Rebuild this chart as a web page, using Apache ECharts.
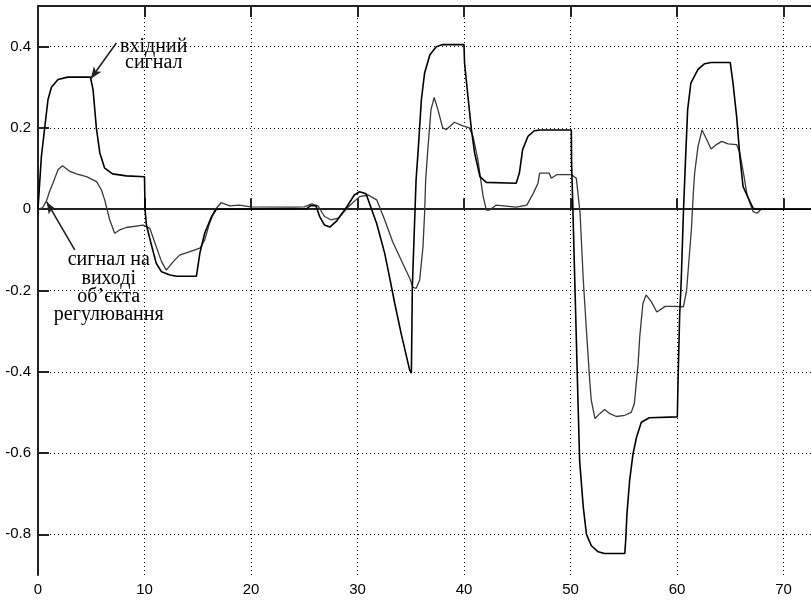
<!DOCTYPE html>
<html>
<head>
<meta charset="utf-8">
<script src="https://cdn.jsdelivr.net/npm/echarts@6/dist/echarts.min.js"></script>
<style>
html,body{margin:0;padding:0;background:#fff;}
#c{width:811px;height:601px;}
</style>
</head>
<body>
<div id="c"></div>
<script>
// ---- data ----
const inputSignal = [
  [0,0],[0.12,0.05],[0.32,0.13],[0.63,0.2],[0.94,0.27],[1.26,0.3],[1.88,0.319],[2.8,0.325],[4.92,0.325],
  [5.17,0.294],[5.48,0.2],[5.8,0.139],[6.26,0.101],[7.0,0.087],[8.3,0.082],[10.0,0.08],
  [10.05,0.0],[10.18,-0.039],[10.65,-0.088],[11.1,-0.133],[11.6,-0.154],[12.4,-0.162],[13.0,-0.165],[14.87,-0.165],
  [15.2,-0.108],[15.65,-0.059],[16.3,-0.018],[16.75,0],[25.2,0.001],[25.6,0.009],[26.1,0.008],
  [26.45,-0.018],[26.9,-0.039],[27.4,-0.044],[28.0,-0.03],[29.0,0.006],[29.7,0.035],[30.2,0.043],[30.8,0.038],
  [31.8,-0.035],[32.55,-0.108],[33.0,-0.166],[33.5,-0.232],[34.1,-0.306],[34.9,-0.396],[35.06,-0.403],
  [35.15,-0.19],[35.5,0.072],[35.7,0.146],[36.0,0.27],[36.3,0.335],[36.8,0.38],[37.4,0.4],[38.0,0.405],[40.0,0.405],
  [40.05,0.36],[40.4,0.27],[40.7,0.195],[41.0,0.138],[41.5,0.08],[42.1,0.066],[44.9,0.064],
  [45.2,0.089],[45.5,0.146],[46.0,0.179],[46.6,0.193],[47.2,0.195],[50.08,0.195],
  [50.1,0.114],[50.2,0.023],[50.4,-0.174],[50.55,-0.322],[50.7,-0.47],[50.86,-0.62],[51.2,-0.733],[51.5,-0.8],
  [51.96,-0.828],[52.6,-0.843],[53.2,-0.847],[55.1,-0.847],[55.2,-0.807],[55.3,-0.75],[55.55,-0.668],[55.87,-0.602],
  [56.2,-0.561],[56.65,-0.524],[57.4,-0.513],[60.03,-0.511],[60.1,-0.42],[60.25,-0.26],[60.4,-0.174],[60.6,-0.01],
  [60.8,0.122],[61.0,0.245],[61.3,0.31],[61.97,0.344],[62.6,0.358],[63.2,0.361],[65.0,0.361],
  [65.26,0.31],[65.6,0.228],[65.9,0.13],[66.2,0.056],[66.7,0.027],[67.15,0.002],[67.5,0],[80,0]
];
const outputSignal = [
  [0,0],[0.4,0.003],[0.79,0.02],[1.1,0.045],[1.4,0.064],[1.88,0.097],[2.3,0.107],[3.0,0.093],[3.6,0.087],
  [4.55,0.08],[5.5,0.068],[5.95,0.048],[6.26,0.023],[6.73,-0.026],[7.2,-0.059],[7.67,-0.051],[8.3,-0.045],[9.86,-0.039],
  [10.5,-0.047],[11.1,-0.092],[11.6,-0.129],[12.05,-0.15],[12.7,-0.129],[13.3,-0.113],[14.2,-0.105],[15.2,-0.096],
  [15.65,-0.076],[16.1,-0.035],[16.6,-0.002],[17.2,0.016],[18.0,0.008],[18.9,0.01],[20.0,0.006],[24.0,0.005],
  [25.0,0.006],[25.7,0.013],[26.3,0.008],[26.9,-0.018],[27.5,-0.026],[28.2,-0.022],[29.3,0.01],[30.2,0.031],
  [31.0,0.035],[31.8,0.023],[32.55,-0.026],[33.3,-0.08],[34.1,-0.125],[34.9,-0.17],[35.2,-0.192],[35.5,-0.195],
  [35.84,-0.174],[36.15,-0.092],[36.3,-0.01],[36.4,0.072],[36.6,0.146],[36.9,0.245],[37.2,0.275],[37.55,0.245],
  [38.0,0.2],[38.35,0.196],[39.1,0.214],[39.9,0.205],[40.5,0.2],[40.85,0.179],[41.3,0.122],[41.8,0.031],
  [42.1,-0.002],[42.4,-0.002],[43.0,0.01],[44.9,0.005],[45.9,0.01],[46.5,0.039],[46.95,0.064],[47.1,0.089],
  [48.0,0.089],[48.2,0.076],[48.7,0.085],[50.1,0.085],[50.55,0.076],[50.9,-0.01],[51.2,-0.174],[51.5,-0.3],
  [51.8,-0.42],[51.95,-0.47],[52.3,-0.515],[52.75,-0.503],[53.2,-0.493],[53.7,-0.503],[54.3,-0.51],[55.1,-0.507],
  [55.7,-0.5],[56.0,-0.478],[56.2,-0.421],[56.35,-0.38],[56.5,-0.314],[56.8,-0.232],[57.1,-0.211],[57.6,-0.228],
  [58.1,-0.253],[58.9,-0.239],[59.95,-0.239],[60.6,-0.24],[60.9,-0.2],[61.1,-0.133],[61.35,-0.051],[61.55,0.048],
  [61.66,0.089],[61.97,0.154],[62.35,0.195],[62.8,0.171],[63.2,0.148],[63.7,0.159],[64.2,0.167],[64.8,0.161],
  [65.6,0.159],[65.9,0.138],[66.3,0.08],[66.55,0.039],[66.85,0.015],[67.15,-0.006],[67.5,-0.01],[67.9,0],[80,0]
];
const yTickValues = [-0.8, -0.6, -0.4, -0.2, 0, 0.2, 0.4];
const yTickLabels = ['-0.8', '-0.6', '-0.4', '-0.2', '0', '0.2', '0.4'];
const xMin = 0, xMax = 80, xStep = 10;
const yMin = -0.9, yMax = 0.5;
const inputLabel = 'вхідний\nсигнал';
const outputLabel = 'сигнал на\nвиході\nоб\u02BCєкта\nрегулювання';
const inputArrow = [[7.36, 0.409], [4.95, 0.321]];
const outputArrow = [[3.45, -0.1], [0.82, 0.018]];
const inputLabelAt = [10.87, 0.381];
const outputLabelAt = [6.64, -0.193];

// ---- chart ----
const chart = echarts.init(document.getElementById('c'), null, {renderer: 'canvas'});
const frame = {show: true, lineStyle: {color: '#222', width: 2}};
const tickFont = {fontFamily: 'Liberation Sans, Arial, sans-serif', fontSize: 15, color: '#000'};
const grid = {type: [1, 3], color: '#000', width: 1};
const annFont = {fontFamily: 'Liberation Serif, Times New Roman, serif', fontSize: 20, color: '#000'};

chart.setOption({
  animation: false,
  backgroundColor: '#fff',
  grid: {left: 38, top: 6, right: -79, bottom: 26, containLabel: false, outerBoundsMode: 'none'},
  xAxis: [
    {type: 'value', min: xMin, max: xMax, interval: xStep, position: 'bottom',
     axisLine: frame, axisTick: {show: true, inside: true, length: 11, lineStyle: {color: '#222', width: 2}},
     axisLabel: Object.assign({margin: 7}, tickFont),
     splitLine: {show: true, lineStyle: grid}},
    {type: 'value', min: xMin, max: xMax, interval: xStep, position: 'top',
     axisLine: frame, axisTick: {show: true, inside: true, length: 11, lineStyle: {color: '#222', width: 2}},
     axisLabel: {show: false}, splitLine: {show: false}}
  ],
  yAxis: [
    {type: 'value', min: yMin, max: yMax,
     axisLine: frame,
     axisTick: {show: true, inside: true, length: 11, customValues: yTickValues, lineStyle: {color: '#222', width: 2}},
     axisLabel: Object.assign({margin: 7, customValues: yTickValues,
       formatter: function (v) { const i = yTickValues.findIndex(t => Math.abs(t - v) < 1e-9); return i >= 0 ? yTickLabels[i] : ''; }}, tickFont),
     splitLine: {show: true, lineStyle: grid}}
  ],
  series: [
    {name: 'вхідний сигнал', type: 'line', data: inputSignal, showSymbol: false, symbol: 'none',
     lineStyle: {color: '#000', width: 1.6}, z: 3,
     markLine: {silent: true, symbol: ['none', 'arrow'], symbolSize: [7, 12], label: {show: false},
       lineStyle: {color: '#222', width: 1.6, type: 'solid'},
       data: [[{coord: inputArrow[0]}, {coord: inputArrow[1]}], [{coord: outputArrow[0]}, {coord: outputArrow[1]}]]},
     markPoint: {silent: true, symbol: 'circle', symbolSize: 1, itemStyle: {color: 'rgba(0,0,0,0)'},
       data: [
         {coord: inputLabelAt, label: Object.assign({show: true, position: 'inside', formatter: inputLabel, lineHeight: 16, align: 'center'}, annFont)},
         {coord: outputLabelAt, label: Object.assign({show: true, position: 'inside', formatter: outputLabel, lineHeight: 18.3, align: 'center'}, annFont)}
       ]}},
    {name: 'сигнал на виході', type: 'line', data: outputSignal, showSymbol: false, symbol: 'none',
     lineStyle: {color: '#383838', width: 1.3}, z: 2}
  ]
});
</script>
</body>
</html>
